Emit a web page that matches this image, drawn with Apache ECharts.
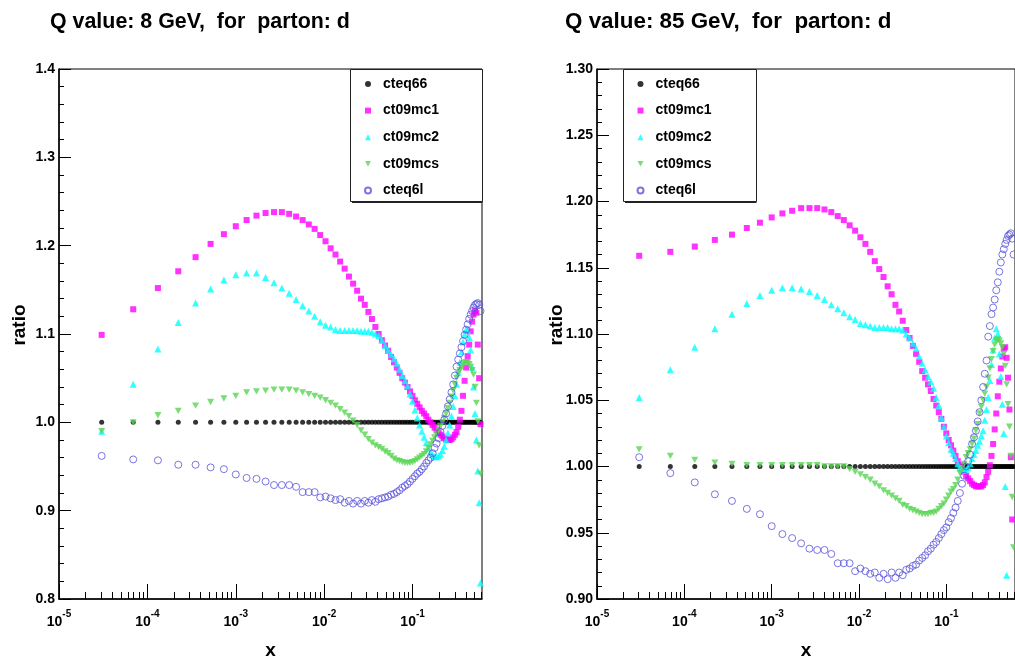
<!DOCTYPE html>
<html><head><meta charset="utf-8">
<script src="https://cdn.jsdelivr.net/npm/echarts@6/dist/echarts.min.js"></script>
<style>html,body{margin:0;padding:0;background:#fff}#c{width:1015px;height:657px}</style>
</head><body><div id="c"></div><script>
// x grid of the points
const xValues = [3.04e-5, 6.91e-5, 1.316e-4, 2.235e-4, 3.507e-4, 5.188e-4, 7.334e-4, 1.0e-3, 1.325e-3, 1.714e-3,
  2.172e-3, 2.705e-3, 3.319e-3, 4.019e-3, 4.811e-3, 5.702e-3, 6.696e-3, 7.799e-3, 9.017e-3, 1.0356e-2,
  1.1822e-2, 1.3419e-2, 1.5154e-2, 1.7033e-2, 1.906e-2, 2.1243e-2, 2.3586e-2, 2.6095e-2, 2.8777e-2, 3.1636e-2,
  3.4678e-2, 3.7909e-2, 4.1335e-2, 4.4962e-2, 4.8795e-2, 5.284e-2, 5.710e-2, 6.159e-2, 6.630e-2, 7.125e-2,
  7.644e-2, 8.188e-2, 8.757e-2, 9.351e-2, 9.972e-2, 0.1062, 0.1129, 0.1200, 0.1273, 0.1349,
  0.1428, 0.1510, 0.1595, 0.1684, 0.1775, 0.1870, 0.1968, 0.2070, 0.2175, 0.2283,
  0.2395, 0.2510, 0.2630, 0.2752, 0.2879, 0.3010, 0.3144, 0.3282, 0.3425, 0.3571,
  0.3722, 0.3876, 0.4035, 0.4198, 0.4366, 0.4538, 0.4714, 0.4895, 0.5081, 0.5271,
  0.5465, 0.5665, 0.5869];

const seriesNames = ['cteq66', 'ct09mc1', 'ct09mc2', 'ct09mcs', 'cteq6l'];

// Q = 8 GeV
const q8_cteq66 = [1,1,1,1,1,1,1,1,1,1, 1,1,1,1,1,1,1,1,1,1, 1,1,1,1,1,1,1,1,1,1, 1,1,1,1,1,1,1,1,1,1,
  1,1,1,1,1,1,1,1,1,1, 1,1,1,1,1,1,1,1,1,1, 1,1,1,1,1,1,1,1,1,1, 1,1,1,1,1,1,1,1,1,1, 1,1,1];
const q8_ct09mc1 = [1.099, 1.128, 1.152, 1.171, 1.187, 1.202, 1.213, 1.222, 1.229, 1.234,
  1.237, 1.238, 1.238, 1.236, 1.233, 1.229, 1.224, 1.219, 1.212, 1.205,
  1.197, 1.190, 1.182, 1.174, 1.165, 1.157, 1.149, 1.140, 1.133, 1.125,
  1.117, 1.108, 1.100, 1.093, 1.087, 1.081, 1.074, 1.068, 1.062, 1.056,
  1.050, 1.045, 1.040, 1.035, 1.030, 1.025, 1.021, 1.017, 1.013, 1.010,
  1.007, 1.003, 1.000, 0.997, 0.994, 0.991, 0.988, 0.986, 0.984, 0.982,
  0.981, 0.980, 0.980, 0.981, 0.983, 0.986, 0.989, 0.995, 1.003, 1.013,
  1.030, 1.047, 1.062, 1.075, 1.088, 1.103, 1.114, 1.122, 1.126, 1.124,
  1.088, 1.050, 0.998];
const q8_ct09mc2 = [0.990, 1.043, 1.083, 1.113, 1.135, 1.151, 1.161, 1.167, 1.169, 1.169,
  1.164, 1.158, 1.152, 1.146, 1.139, 1.132, 1.126, 1.120, 1.114, 1.110,
  1.108, 1.105, 1.104, 1.104, 1.104, 1.104, 1.104, 1.103, 1.103, 1.103,
  1.102, 1.100, 1.098, 1.093, 1.087, 1.082, 1.077, 1.072, 1.067, 1.060,
  1.053, 1.047, 1.041, 1.032, 1.024, 1.014, 1.005, 0.997, 0.990, 0.983,
  0.977, 0.971, 0.966, 0.963, 0.961, 0.961, 0.962, 0.964, 0.968, 0.973,
  0.980, 0.988, 0.997, 1.007, 1.018, 1.030, 1.043, 1.056, 1.068, 1.080,
  1.091, 1.100, 1.105, 1.104, 1.096, 1.082, 1.062, 1.040, 1.010, 0.980,
  0.945, 0.909, 0.818];
const q8_ct09mcs = [0.990, 1.000, 1.008, 1.013, 1.019, 1.023, 1.027, 1.030, 1.034, 1.035,
  1.036, 1.037, 1.037, 1.037, 1.036, 1.034, 1.032, 1.030, 1.028, 1.025,
  1.022, 1.019, 1.015, 1.011, 1.007, 1.002, 0.997, 0.991, 0.986, 0.981,
  0.977, 0.974, 0.972, 0.970, 0.967, 0.965, 0.962, 0.959, 0.957, 0.956,
  0.955, 0.954, 0.954, 0.954, 0.955, 0.956, 0.958, 0.960, 0.962, 0.964,
  0.967, 0.971, 0.975, 0.979, 0.983, 0.987, 0.991, 0.996, 1.000, 1.005,
  1.010, 1.016, 1.022, 1.029, 1.036, 1.043, 1.050, 1.055, 1.059, 1.062,
  1.065, 1.067, 1.068, 1.068, 1.066, 1.063, 1.059, 1.054, 1.040, 1.022,
  1.001, 0.974, 0.942];
const q8_cteq6l = [0.962, 0.958, 0.957, 0.952, 0.952, 0.949, 0.947, 0.941, 0.937, 0.936,
  0.933, 0.929, 0.929, 0.929, 0.927, 0.921, 0.921, 0.921, 0.915, 0.916,
  0.914, 0.912, 0.913, 0.909, 0.911, 0.908, 0.911, 0.908, 0.911, 0.909,
  0.912, 0.910, 0.913, 0.914, 0.915, 0.916, 0.918, 0.919, 0.921, 0.923,
  0.926, 0.928, 0.930, 0.933, 0.936, 0.939, 0.942, 0.944, 0.947, 0.950,
  0.954, 0.957, 0.960, 0.965, 0.971, 0.976, 0.982, 0.989, 0.996, 1.003,
  1.010, 1.018, 1.026, 1.034, 1.043, 1.053, 1.063, 1.071, 1.078, 1.085,
  1.092, 1.099, 1.105, 1.111, 1.117, 1.122, 1.126, 1.130, 1.133, 1.134,
  1.135, 1.133, 1.126];

// Q = 85 GeV
const q85_cteq66 = [1,1,1,1,1,1,1,1,1,1, 1,1,1,1,1,1,1,1,1,1, 1,1,1,1,1,1,1,1,1,1, 1,1,1,1,1,1,1,1,1,1,
  1,1,1,1,1,1,1,1,1,1, 1,1,1,1,1,1,1,1,1,1, 1,1,1,1,1,1,1,1,1,1, 1,1,1,1,1,1,1,1,1,1, 1,1,1];
const q85_ct09mc1 = [1.159, 1.162, 1.166, 1.171, 1.175, 1.180, 1.184, 1.188, 1.191, 1.193,
  1.195, 1.195, 1.195, 1.194, 1.192, 1.189, 1.186, 1.182, 1.178, 1.173,
  1.168, 1.162, 1.155, 1.149, 1.143, 1.136, 1.130, 1.122, 1.117, 1.110,
  1.103, 1.097, 1.091, 1.085, 1.079, 1.072, 1.067, 1.062, 1.057, 1.051,
  1.046, 1.041, 1.036, 1.030, 1.025, 1.020, 1.016, 1.012, 1.008, 1.004,
  1.001, 0.998, 0.996, 0.993, 0.991, 0.989, 0.987, 0.986, 0.985, 0.985,
  0.985, 0.985, 0.986, 0.988, 0.992, 0.996, 1.001, 1.008, 1.017, 1.028,
  1.040, 1.053, 1.064, 1.074, 1.083, 1.089, 1.090, 1.082, 1.067, 1.043,
  1.007, 0.960, null];
const q85_ct09mc2 = [1.052, 1.073, 1.090, 1.104, 1.115, 1.123, 1.129, 1.133, 1.135, 1.135,
  1.134, 1.132, 1.129, 1.126, 1.122, 1.119, 1.116, 1.113, 1.111, 1.108,
  1.107, 1.106, 1.105, 1.105, 1.105, 1.105, 1.104, 1.104, 1.104, 1.103,
  1.100, 1.097, 1.093, 1.089, 1.083, 1.078, 1.073, 1.068, 1.064, 1.059,
  1.052, 1.046, 1.037, 1.030, 1.023, 1.018, 1.013, 1.010, 1.006, 1.002,
  0.999, 0.998, 0.997, 0.998, 0.999, 1.002, 1.006, 1.009, 1.012, 1.016,
  1.019, 1.023, 1.027, 1.035, 1.043, 1.052, 1.065, 1.077, 1.088, 1.097,
  1.104, 1.100, 1.085, 1.068, 1.047, 1.025, 0.985, 0.918, null, null,
  null, null, null];
const q85_ct09mcs = [1.013, 1.008, 1.005, 1.003, 1.002, 1.001, 1.001, 1.001, 1.001, 1.001,
  1.001, 1.001, 1.001, 1.000, 1.000, 1.000, 1.000, 0.998, 0.996, 0.994,
  0.992, 0.990, 0.987, 0.985, 0.982, 0.980, 0.978, 0.976, 0.974, 0.971,
  0.970, 0.968, 0.967, 0.966, 0.965, 0.964, 0.964, 0.964, 0.965, 0.965,
  0.966, 0.968, 0.970, 0.972, 0.975, 0.978, 0.981, 0.983, 0.986, 0.990,
  0.995, 0.999, 1.002, 1.007, 1.010, 1.013, 1.017, 1.021, 1.027, 1.032,
  1.040, 1.045, 1.050, 1.055, 1.060, 1.067, 1.074, 1.081, 1.087, 1.092,
  1.095, 1.096, 1.095, 1.093, 1.090, 1.085, 1.076, 1.062, 1.047, 1.030,
  1.008, 0.977, 0.939];
const q85_cteq6l = [1.007, 0.995, 0.988, 0.979, 0.974, 0.968, 0.964, 0.955, 0.949, 0.946,
  0.942, 0.938, 0.937, 0.937, 0.934, 0.927, 0.927, 0.927, 0.921, 0.923,
  0.921, 0.919, 0.920, 0.916, 0.919, 0.915, 0.920, 0.916, 0.920, 0.918,
  0.922, 0.923, 0.925, 0.926, 0.929, 0.931, 0.933, 0.936, 0.938, 0.941,
  0.943, 0.946, 0.949, 0.952, 0.954, 0.958, 0.961, 0.965, 0.969, 0.974,
  0.980, 0.987, 0.993, 1.000, 1.004, 1.009, 1.017, 1.022, 1.027, 1.034,
  1.041, 1.050, 1.060, 1.070, 1.080, 1.098, 1.106, 1.115, 1.120, 1.126,
  1.133, 1.139, 1.147, 1.154, 1.160, 1.164, 1.168, 1.171, 1.174, 1.175,
  1.176, 1.172, 1.160];

// axis ticks
const xMajorTicks = [1e-5, 1e-4, 1e-3, 1e-2, 1e-1];
const xMinorTicks = [2e-5,3e-5,4e-5,5e-5,6e-5,7e-5,8e-5,9e-5, 2e-4,3e-4,4e-4,5e-4,6e-4,7e-4,8e-4,9e-4,
  2e-3,3e-3,4e-3,5e-3,6e-3,7e-3,8e-3,9e-3, 2e-2,3e-2,4e-2,5e-2,6e-2,7e-2,8e-2,9e-2, 2e-1,3e-1,4e-1,5e-1,6e-1];
const titles = ['Q value: 8 GeV,  for  parton: d', 'Q value: 85 GeV,  for  parton: d'];

const FONT = '"Liberation Sans", Arial, Helvetica, sans-serif';
const styles = {
  cteq66: { symbol: 'circle', size: 5, color: '#000000' },
  ct09mc1: { symbol: 'rect', size: 6, color: '#ff00ff' },
  ct09mc2: { symbol: 'triangle', size: 7, color: '#00ffff' },
  ct09mcs: { symbol: 'path://M0,0 L10,0 L5,9 Z', size: 7, color: '#59d454' },
  cteq6l: { symbol: 'circle', size: 7, color: '#5954d9', hollow: true }
};
const panels = [
  { data: [q8_cteq66, q8_ct09mc1, q8_ct09mc2, q8_ct09mcs, q8_cteq6l] },
  { data: [q85_cteq66, q85_ct09mc1, q85_ct09mc2, q85_ct09mcs, q85_cteq6l] }
];

const series = [];
panels.forEach((p, gi) => {
  seriesNames.forEach((name, si) => {
    const st = styles[name];
    const ys = p.data[si];
    const pts = [];
    xValues.forEach((x, i) => { if (ys[i] != null) pts.push([x, ys[i]]); });
    series.push({
      type: 'scatter', name: name, xAxisIndex: gi * 2, yAxisIndex: gi,
      data: pts, symbol: st.symbol, symbolSize: st.size, symbolKeepAspect: true, clip: true, silent: true,
      itemStyle: st.hollow ? { color: 'rgba(0,0,0,0)', borderColor: st.color, borderWidth: 1 }
                           : { color: st.color, borderWidth: 0 },
      emphasis: { disabled: true }, z: 2 + si
    });
  });
});

function xLabel(v) {
  const e = Math.round(Math.log10(v));
  return '{a|10}{b|' + e + '}';
}
function xAxes(gi) {
  return [{
    gridIndex: gi, type: 'log', logBase: 10, min: 1e-5, max: 0.61,
    axisLine: { show: true, lineStyle: { color: '#000', width: 1.5 } },
    axisTick: { show: true, inside: true, length: 15, customValues: xMajorTicks, lineStyle: { color: '#000', width: 1 } },
    axisLabel: { show: true, customValues: xMajorTicks, formatter: xLabel, margin: 10, color: '#000',
      rich: {
        a: { fontSize: 14, fontWeight: 'bold', fontFamily: FONT, color: '#000', lineHeight: 20, verticalAlign: 'bottom' },
        b: { fontSize: 10, fontWeight: 'bold', fontFamily: FONT, color: '#000', lineHeight: 20, verticalAlign: 'top' }
      } },
    splitLine: { show: false },
    name: 'x', nameLocation: 'middle', nameGap: 42,
    nameTextStyle: { fontSize: 19, fontWeight: 'bold', fontFamily: FONT, color: '#000' }
  }, {
    gridIndex: gi, type: 'log', logBase: 10, min: 1e-5, max: 0.61, position: 'bottom',
    axisLine: { show: false },
    axisTick: { show: true, inside: true, length: 7, customValues: xMinorTicks, lineStyle: { color: '#000', width: 1 } },
    axisLabel: { show: false }, splitLine: { show: false }
  }];
}
function yAxis(gi, min, max, interval, dec) {
  return {
    gridIndex: gi, type: 'value', min: min, max: max, interval: interval,
    axisLine: { show: true, lineStyle: { color: '#000', width: 1.5 } },
    axisTick: { show: true, inside: true, length: 12, lineStyle: { color: '#000', width: 1 } },
    minorTick: { show: true, splitNumber: 5, length: 5, lineStyle: { color: '#000', width: 1 } },
    axisLabel: { formatter: v => v.toFixed(dec), fontSize: 14, fontWeight: 'bold', fontFamily: FONT, color: '#000', margin: 4 },
    splitLine: { show: false }, minorSplitLine: { show: false }
  };
}
function legend(left) {
  return {
    left: left, top: 77, orient: 'vertical', itemWidth: 6, itemHeight: 6, itemGap: 12.6, padding: 0,
    symbolKeepAspect: true, selectedMode: false, z: 10, data: seriesNames,
    textStyle: { fontSize: 14, fontWeight: 'bold', fontFamily: FONT, color: '#000', padding: [0, 0, 0, 7] }
  };
}
function legendBox(x, w) {
  return [
    { type: 'rect', z: 8, shape: { x: x + 0.5, y: 69.5, width: w, height: 132 },
      style: { fill: '#fff', stroke: '#222', lineWidth: 1 } },
    { type: 'line', z: 8, shape: { x1: x + 2, y1: 202.5, x2: x + w + 0.5, y2: 202.5 },
      style: { stroke: '#222', lineWidth: 1 } }
  ];
}
function textEl(text, x, y, size, rot, align) {
  return { type: 'text', z: 9, x: x, y: y, rotation: rot || 0,
    style: { text: text, fontSize: size, fontWeight: 'bold', fontFamily: FONT, fill: '#000',
      align: align || 'left', verticalAlign: 'middle', textAlign: align || 'left', textVerticalAlign: 'middle' } };
}

const chart = echarts.init(document.getElementById('c'), null, { renderer: 'canvas' });
chart.setOption({
  animation: false,
  backgroundColor: '#fff',
  grid: [
    { left: 59, top: 69, width: 423, height: 530, show: true, borderColor: '#000', borderWidth: 1,
      backgroundColor: 'transparent', containLabel: false, outerBoundsMode: 'none' },
    { left: 597, top: 69, width: 418, height: 530, show: true, borderColor: '#000', borderWidth: 1,
      backgroundColor: 'transparent', containLabel: false, outerBoundsMode: 'none' }
  ],
  xAxis: xAxes(0).concat(xAxes(1)),
  yAxis: [yAxis(0, 0.8, 1.4, 0.1, 1), yAxis(1, 0.9, 1.3, 0.05, 2)],
  legend: [legend(364), legend(636.5)],
  graphic: [].concat(
    legendBox(350, 132), legendBox(623, 133),
    [textEl(titles[0], 50, 22, 21.4), textEl(titles[1], 565, 22, 22.4),
     textEl('ratio', 20, 325, 19, Math.PI / 2, 'center'), textEl('ratio', 557, 325, 19, Math.PI / 2, 'center')]
  ),
  series: series
});
</script></body></html>
